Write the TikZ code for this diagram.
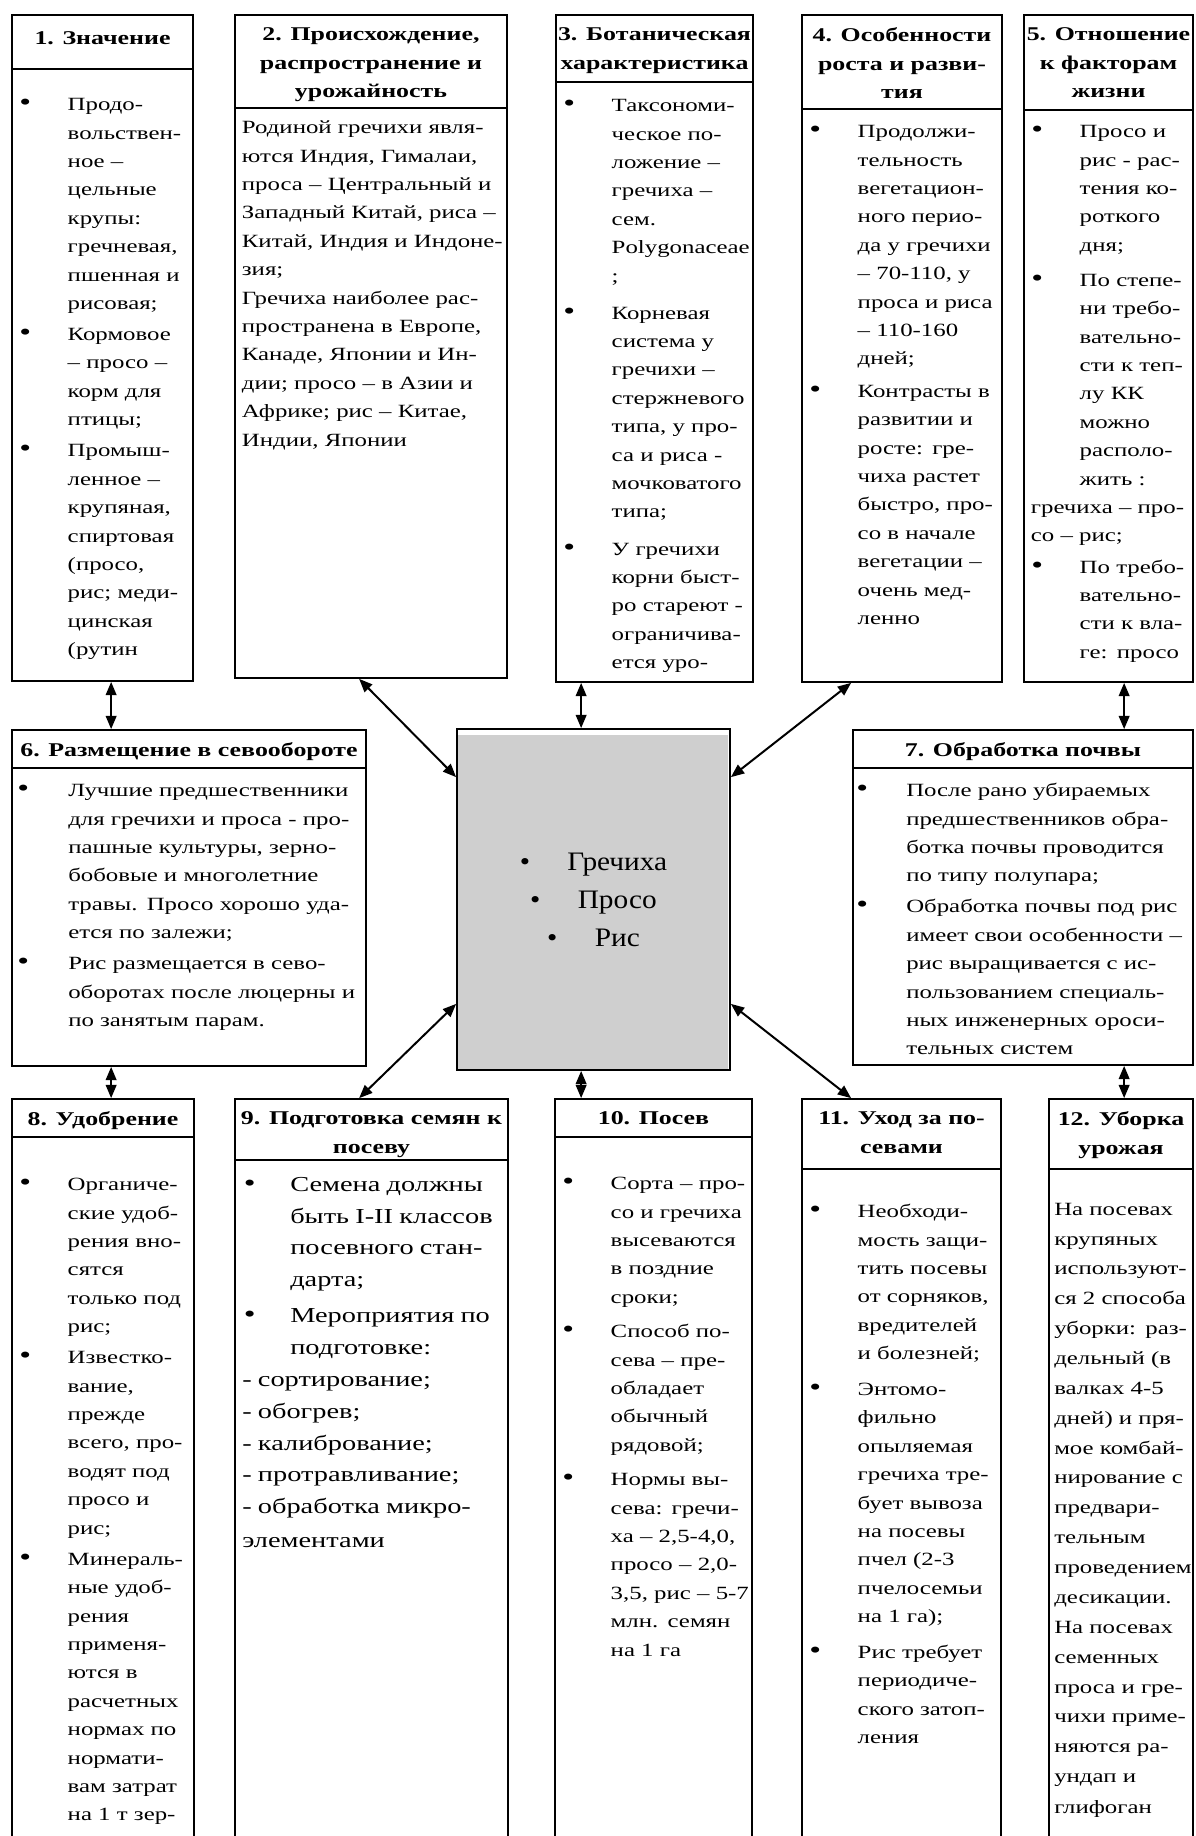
\documentclass[tikz,border=0pt]{standalone}
\usepackage{fontspec}
\setmainfont{Liberation Serif}[FakeStretch=1.33]
\newfontfamily\corefont{Liberation Serif}[FakeStretch=1.1]
\usetikzlibrary{arrows.meta,calc,fit}

\definecolor{corefill}{gray}{0.81}

% list layout: bullet offset, text indent, flush offset, gap between items
\newlength\bx \newlength\bw \newlength\fx \newlength\ig
\setlength\bx{5.3pt}\setlength\bw{41.6pt}\setlength\fx{5pt}\setlength\ig{2pt}

\newcommand\bodyfont{\fontsize{14}{21.3}\selectfont\setlength\parskip{0pt}}
\newcommand\headfont{\bfseries\fontsize{14.6}{21.3}\selectfont}
\newcommand\bmark{{\fontsize{19}{19}\selectfont\textbullet}}
\newcommand\bi[1]{\par\noindent\strut\makebox[\bw][l]{\hspace*{\bx}\bmark}#1}
\newcommand\li[1]{\par\noindent\strut\hspace*{\bw}#1}
\newcommand\fl[1]{\par\noindent\strut\hspace*{\fx}#1}
\newcommand\gp{\par\vspace{\ig}}

\begin{document}
\begin{tikzpicture}[x=0.75pt, y=-0.75pt,
  frame/.style={draw, line width=1.3pt, inner sep=0pt},
  htext/.style={inner sep=0pt, anchor=north, align=center, font=\headfont},
  btext/.style={inner sep=0pt, anchor=north west, text width=320pt, align=left, font=\bodyfont},
  link/.style={line width=1.5pt, {Triangle[length=10pt,width=8pt]}-{Triangle[length=10pt,width=8pt]}},
]
\useasboundingbox (0,0) rectangle (1196,1836);
\clip (0,0) rectangle (1196,1836);
\fill[white] (0,0) rectangle (1196,1836);

% ---------- top row ----------
\node[frame, fit={(12,15) (193,69)}] (h1) {};
\node[frame, fit={(12,69) (193,681)}] (b1) {};
\node[frame, fit={(235,15) (507,108)}] (h2) {};
\node[frame, fit={(235,108) (507,678)}] (b2) {};
\node[frame, fit={(556,15) (753,82)}] (h3) {};
\node[frame, fit={(556,82) (753,682)}] (b3) {};
\node[frame, fit={(802,15) (1002,109)}] (h4) {};
\node[frame, fit={(802,109) (1002,682)}] (b4) {};
\node[frame, fit={(1024,15) (1193,110)}] (h5) {};
\node[frame, fit={(1024,110) (1193,682)}] (b5) {};

% ---------- middle row ----------
\node[frame, fit={(12,730) (366,768)}] (h6) {};
\node[frame, fit={(12,768) (366,1066)}] (b6) {};
\node[frame, fit={(457,729) (730,1070)}] (core) {};
\fill[corefill] ($(core.north west)+(2,7)$) rectangle ($(core.south east)+(-3,-2)$);
\node[frame, fit={(853,730) (1193,768)}] (h7) {};
\node[frame, fit={(853,768) (1193,1065)}] (b7) {};

% ---------- bottom row ----------
\node[frame, fit={(12,1099) (194,1137)}] (h8) {};
\node[frame, fit={(12,1137) (194,1860)}] (b8) {};
\node[frame, fit={(235,1099) (508,1160)}] (h9) {};
\node[frame, fit={(235,1160) (508,1860)}] (b9) {};
\node[frame, fit={(555,1099) (752,1137)}] (h10) {};
\node[frame, fit={(555,1137) (752,1860)}] (b10) {};
\node[frame, fit={(802,1099) (1001,1169)}] (h11) {};
\node[frame, fit={(802,1169) (1001,1860)}] (b11) {};
\node[frame, fit={(1049,1099) (1193,1169)}] (h12) {};
\node[frame, fit={(1049,1169) (1193,1860)}] (b12) {};

% ---------- headings ----------
\tikzset{hshift/.style={yshift=-10pt}}
\node[htext] (l1) at ([yshift=-13pt]h1.north) {1. Значение};
\node[htext] (l2) at ([hshift]h2.north) {2. Происхождение,\\распространение и\\урожайность};
\node[htext] (l3) at ([hshift]h3.north) {3. Ботаническая\\характеристика};
\node[htext] (l4) at ([hshift]h4.north) {4. Особенности\\роста и разви-\\тия};
\node[htext] (l5) at ([hshift]h5.north) {5. Отношение\\к факторам\\жизни};
\node[htext] (l6) at ([hshift]h6.north) {6. Размещение в севообороте};
\node[htext] (l7) at ([hshift]h7.north) {7. Обработка почвы};
\node[htext] (l8) at ([hshift]h8.north) {8. Удобрение};
\node[htext] (l9) at ([hshift]h9.north) {9. Подготовка семян к\\посеву};
\node[htext] (l10) at ([hshift]h10.north) {10. Посев};
\node[htext] (l11) at ([hshift]h11.north) {11. Уход за по-\\севами};
\node[htext] (l12) at ([hshift]h12.north) {12. Уборка\\урожая};

% ---------- centre ----------
\node[inner sep=0pt, align=center, font=\corefont\fontsize{20}{28.5}\selectfont] (coretext) at (core.center)
  {\textbullet\hspace{28pt}Гречиха\\\textbullet\hspace{28pt}Просо\\\textbullet\hspace{28pt}Рис};

% ---------- texts ----------
\node[btext] (t1) at (12,82) {%
\bi{Продо-}\li{вольствен-}\li{ное –}\li{цельные}\li{крупы:}\li{гречневая,}\li{пшенная и}\li{рисовая;}\gp
\bi{Кормовое}\li{– просо –}\li{корм для}\li{птицы;}\gp
\bi{Промыш-}\li{ленное –}\li{крупяная,}\li{спиртовая}\li{(просо,}\li{рис; меди-}\li{цинская}\li{(рутин}};

\node[btext] (t2) at (235,105) {%
\fl{Родиной гречихи явля-}\fl{ются Индия, Гималаи,}\fl{проса – Центральный и}\fl{Западный Китай, риса –}%
\fl{Китай, Индия и Индоне-}\fl{зия;}\fl{Гречиха наиболее рас-}\fl{пространена в Европе,}%
\fl{Канаде, Японии и Ин-}\fl{дии; просо – в Азии и}\fl{Африке; рис – Китае,}\fl{Индии, Японии}};

\node[btext] (t3) at (556,83) {\setlength\ig{6.5pt}%
\bi{Таксономи-}\li{ческое по-}\li{ложение –}\li{гречиха –}\li{сем.}\li{Polygonaceae}\li{;}\gp
\bi{Корневая}\li{система у}\li{гречихи –}\li{стержневого}\li{типа, у про-}\li{са и риса -}\li{мочковатого}\li{типа;}\gp
\bi{У гречихи}\li{корни быст-}\li{ро стареют -}\li{ограничива-}\li{ется уро-}};

\node[btext] (t4) at (802,109) {\setlength\ig{3pt}%
\bi{Продолжи-}\li{тельность}\li{вегетацион-}\li{ного перио-}\li{да у гречихи}\li{– 70-110, у}\li{проса и риса}\li{– 110-160}\li{дней;}\gp
\bi{Контрасты в}\li{развитии и}\li{росте: гре-}\li{чиха растет}\li{быстро, про-}\li{со в начале}\li{вегетации –}\li{очень мед-}\li{ленно}};

\node[btext] (t5) at (1024,109) {%
\bi{Просо и}\li{рис - рас-}\li{тения ко-}\li{роткого}\li{дня;}\par\vspace{5pt}%
\bi{По степе-}\li{ни требо-}\li{вательно-}\li{сти к теп-}\li{лу КК}\li{можно}\li{располо-}\li{жить :}%
\fl{гречиха – про-}\fl{со – рис;}\gp
\bi{По требо-}\li{вательно-}\li{сти к вла-}\li{ге: просо}};

\node[btext] (t6) at (12,768) {\setlength\bx{3.8pt}\setlength\bw{42pt}%
\bi{Лучшие предшественники}\li{для гречихи и проса - про-}\li{пашные культуры, зерно-}\li{бобовые и многолетние}\li{травы. Просо хорошо уда-}\li{ется по залежи;}\gp
\bi{Рис размещается в сево-}\li{оборотах после люцерны и}\li{по занятым парам.}};

\node[btext] (t7) at (853,768) {\setlength\bx{2.3pt}\setlength\bw{39.75pt}%
\bi{После рано убираемых}\li{предшественников обра-}\li{ботка почвы проводится}\li{по типу полупара;}\gp
\bi{Обработка почвы под рис}\li{имеет свои особенности –}\li{рис выращивается с ис-}\li{пользованием специаль-}\li{ных инженерных ороси-}\li{тельных систем}};

\node[btext] (t8) at (12,1162) {%
\bi{Органиче-}\li{ские удоб-}\li{рения вно-}\li{сятся}\li{только под}\li{рис;}\gp
\bi{Известко-}\li{вание,}\li{прежде}\li{всего, про-}\li{водят под}\li{просо и}\li{рис;}\gp
\bi{Минераль-}\li{ные удоб-}\li{рения}\li{применя-}\li{ются в}\li{расчетных}\li{нормах по}\li{нормати-}\li{вам затрат}\li{на 1 т зер-}};

\node[btext] (t9) at (235,1159) {\fontsize{16}{23.9}\selectfont\setlength\bx{6.5pt}\setlength\bw{41.25pt}\setlength\fx{5.25pt}\setlength\ig{3pt}%
\bi{Семена должны}\li{быть I-II классов}\li{посевного стан-}\li{дарта;}\gp
\bi{Мероприятия по}\li{подготовке:}%
\fl{- сортирование;}\fl{- обогрев;}\fl{- калибрование;}\fl{- протравливание;}\fl{- обработка микро-}\fl{элементами}};

\node[btext] (t10) at (555,1161) {\setlength\ig{4.5pt}%
\bi{Сорта – про-}\li{со и гречиха}\li{высеваются}\li{в поздние}\li{сроки;}\gp
\bi{Способ по-}\li{сева – пре-}\li{обладает}\li{обычный}\li{рядовой;}\gp
\bi{Нормы вы-}\li{сева: гречи-}\li{ха – 2,5-4,0,}\li{просо – 2,0-}\li{3,5, рис – 5-7}\li{млн. семян}\li{на 1 га}};

\node[btext] (t11) at (802,1189) {\setlength\ig{5.5pt}%
\bi{Необходи-}\li{мость защи-}\li{тить посевы}\li{от сорняков,}\li{вредителей}\li{и болезней;}\gp
\bi{Энтомо-}\li{фильно}\li{опыляемая}\li{гречиха тре-}\li{бует вывоза}\li{на посевы}\li{пчел (2-3}\li{пчелосемьи}\li{на 1 га);}\gp
\bi{Рис требует}\li{периодиче-}\li{ского затоп-}\li{ления}};

\node[btext] (t12) at (1049,1185) {\fontsize{14}{22.4}\selectfont\setlength\fx{3.75pt}%
\fl{На посевах}\fl{крупяных}\fl{используют-}\fl{ся 2 способа}\fl{уборки: раз-}\fl{дельный (в}\fl{валках 4-5}%
\fl{дней) и пря-}\fl{мое комбай-}\fl{нирование с}\fl{предвари-}\fl{тельным}\fl{проведением}\fl{десикации.}%
\fl{На посевах}\fl{семенных}\fl{проса и гре-}\fl{чихи приме-}\fl{няются ра-}\fl{ундап и}\fl{глифоган}};

% ---------- connectors ----------
\draw[link] ($(b1.south west)+(100,0)$) -- ($(h6.north west)+(100,0)$);
\draw[link] ($(b3.south west)+(26,0)$) -- ($(core.north west)+(125,0)$);
\draw[link] ($(b5.south west)+(101,0)$) -- ($(h7.north west)+(272,0)$);
\draw[link] ($(b2.south west)+(125,0)$) -- ($(core.north west)+(0,49)$);
\draw[link] ($(b4.south west)+(50,0)$) -- ($(core.north east)+(0,49)$);
\draw[link] ($(core.south west)+(0,-67)$) -- ($(h9.north west)+(125,0)$);
\draw[link] ($(core.south east)+(0,-67)$) -- ($(h11.north west)+(50,0)$);
\draw[link] ($(b6.south west)+(100,0)$) -- ($(h8.north west)+(100,0)$);
\draw[link] ($(core.south west)+(125,0)$) -- ($(h10.north west)+(27,0)$);
\draw[link] ($(b7.south west)+(272,0)$) -- ($(h12.north west)+(76,0)$);
\end{tikzpicture}
\end{document}
